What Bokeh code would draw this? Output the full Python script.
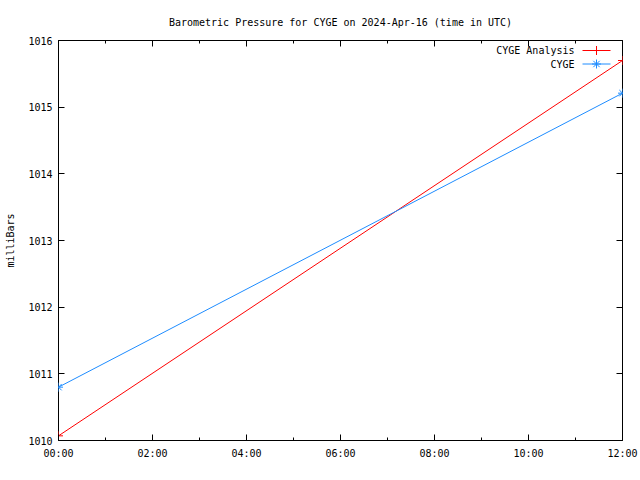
from bokeh.plotting import figure
from bokeh.models import (Range1d, LinearAxis, FixedTicker, Label, Arrow)
from bokeh.embed import file_html
from bokeh.resources import INLINE

title_text = "Barometric Pressure for CYGE on 2024-Apr-16 (time in UTC)"
y_label = "milliBars"

hours_analysis = [0, 12]
press_analysis = [1010.07, 1015.70]
hours_obs = [0, 12]
press_obs = [1010.80, 1015.21]

x_ticks = [0, 2, 4, 6, 8, 10, 12]
x_tick_labels = ["00:00", "02:00", "04:00", "06:00", "08:00", "10:00", "12:00"]
x_minor = list(range(0, 13))
y_ticks = [1010, 1011, 1012, 1013, 1014, 1015, 1016]

series_names = ["CYGE Analysis", "CYGE"]
red = "#ff0000"
blue = "#1e8cff"
FONT = "DejaVu Sans Mono"
FS = "10px"

p = figure(width=640, height=480, output_backend="svg", toolbar_location=None,
           x_range=Range1d(0, 12), y_range=Range1d(1010, 1016),
           x_axis_location=None, y_axis_location=None,
           min_border_left=58, min_border_right=18, min_border_top=40, min_border_bottom=40)
p.xgrid.visible = False
p.ygrid.visible = False
p.outline_line_color = "black"
p.outline_line_width = 1
p.background_fill_color = "white"
p.border_fill_color = "white"

p.title.text = title_text
p.title.text_font = FONT
p.title.text_font_size = FS
p.title.text_font_style = "normal"
p.title.text_color = "black"
p.title.align = "center"
p.title.standoff = 26

def style_axis(ax, labels=True):
    ax.major_tick_in = 6
    ax.major_tick_out = 0
    ax.minor_tick_in = 3
    ax.minor_tick_out = 0
    ax.axis_line_color = None
    ax.major_tick_line_color = "black"
    ax.minor_tick_line_color = "black"
    ax.major_label_text_font = FONT
    ax.major_label_text_font_size = FS
    ax.major_label_text_color = "black"
    if not labels:
        ax.major_label_text_alpha = 0
        ax.major_label_standoff = 0

xt = FixedTicker(ticks=x_ticks, minor_ticks=x_minor)
yt = FixedTicker(ticks=y_ticks, minor_ticks=[])

bottom = LinearAxis(ticker=xt, major_label_overrides={t: l for t, l in zip(x_ticks, x_tick_labels)})
style_axis(bottom)
bottom.major_label_standoff = 7
p.add_layout(bottom, "below")

top = LinearAxis(ticker=FixedTicker(ticks=x_ticks, minor_ticks=x_minor),
                 major_label_overrides={t: "" for t in x_ticks})
style_axis(top, labels=False)
p.add_layout(top, "above")

left = LinearAxis(ticker=yt, axis_label=y_label)
style_axis(left)
left.major_label_standoff = 6
left.axis_label_text_font = FONT
left.axis_label_text_font_size = FS
left.axis_label_text_font_style = "normal"
left.axis_label_text_color = "black"
left.axis_label_standoff = 9
p.add_layout(left, "left")

right = LinearAxis(ticker=FixedTicker(ticks=y_ticks, minor_ticks=[]),
                   major_label_overrides={t: "" for t in y_ticks})
style_axis(right, labels=False)
p.add_layout(right, "right")

# data lines
p.line(hours_analysis, press_analysis, line_color=red, line_width=1)
p.scatter(hours_analysis, press_analysis, marker="cross", size=9, line_color=red, line_width=1)
p.line(hours_obs, press_obs, line_color=blue, line_width=1)
p.scatter(hours_obs, press_obs, marker="asterisk", size=9, line_color=blue, line_width=1)

# legend (gnuplot style: label then sample)
ppx = 12 / 564.0
ppy = 6 / 400.0
lx_text = (574 - 58) * ppx
ls0 = (582 - 58) * ppx
ls1 = (610 - 58) * ppx
lm = (596 - 58) * ppx
rows_y = [1016 - (50 - 40) * ppy, 1016 - (63.5 - 40) * ppy]
colors = [red, blue]
for name, yy, c, mk in zip(series_names, rows_y, colors, ["cross", "asterisk"]):
    p.add_layout(Label(x=lx_text, y=yy, text=name, text_font=FONT, text_font_size=FS,
                       text_align="right", text_baseline="middle", text_color="black"))
    p.add_layout(Arrow(x_start=ls0, y_start=yy, x_end=ls1, y_end=yy, end=None,
                       line_color=c, line_width=1))
    p.scatter([lm], [yy], marker=mk, size=9, line_color=c, line_width=1)

open("out.html", "w").write(file_html(p, INLINE))
